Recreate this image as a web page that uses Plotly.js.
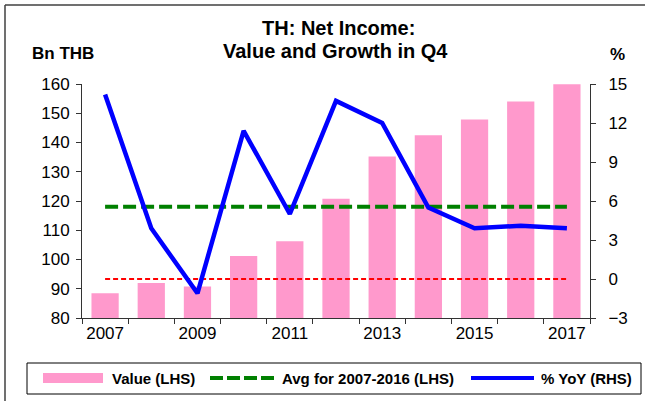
<!DOCTYPE html>
<html>
<head>
<meta charset="utf-8">
<script src="https://cdn.plot.ly/plotly-3.0.1.min.js"></script>
<style>
  html, body { margin: 0; padding: 0; background: #ffffff; }
  #chart { width: 649px; height: 401px; }
</style>
</head>
<body>
<div id="chart"></div>
<script>
// ---- data ----
const years = ['2007','2008','2009','2010','2011','2012','2013','2014','2015','2016','2017'];
const valueBn = [88.5, 92.0, 90.8, 101.2, 106.2, 120.8, 135.2, 142.5, 147.9, 154.0, 159.9];
const yoyPct = [14.2, 3.9, -1.1, 11.4, 5.0, 13.7, 12.0, 5.5, 3.9, 4.1, 3.9];
const avgLevel = 118;   // Avg for 2007-2016 (LHS)
const zeroLevel = 0;    // RHS zero reference
const xTickText = ['2007','','2009','','2011','','2013','','2015','','2017'];
const leftTicks = [80, 90, 100, 110, 120, 130, 140, 150, 160];
const rightTicks = [-3, 0, 3, 6, 9, 12, 15];
const seriesNames = ['Value (LHS)', 'Avg for 2007-2016 (LHS)', '% YoY (RHS)'];

// ---- geometry helpers (pixel -> paper) ----
const W = 649, H = 401;
const PL = 82, PR = 590, PT = 84, PB = 318;
const px = x => (x - PL) / (PR - PL);
const py = y => (PB - y) / (PB - PT);

const FONT = 'Arial, "Liberation Sans", Helvetica, sans-serif';
const PINK = '#FF99CC', GREEN = '#008000', BLUE = '#0000FF', RED = '#FF0000';

const traces = [
  { type: 'bar', x: years, y: valueBn, name: seriesNames[0], yaxis: 'y',
    marker: { color: PINK, line: { width: 0 } }, hoverinfo: 'skip' },
  { type: 'scatter', mode: 'lines', x: years, y: years.map(() => avgLevel), name: seriesNames[1], yaxis: 'y',
    line: { color: GREEN, width: 4, dash: '13px,5px' }, hoverinfo: 'skip' },
  { type: 'scatter', mode: 'lines', x: years, y: years.map(() => zeroLevel), yaxis: 'y2', showlegend: false,
    line: { color: RED, width: 2, dash: '5px,3px' }, hoverinfo: 'skip' },
  { type: 'scatter', mode: 'lines', x: years, y: yoyPct, name: seriesNames[2], yaxis: 'y2',
    line: { color: BLUE, width: 4.5 }, hoverinfo: 'skip' }
];

const axisCommon = {
  showgrid: false, zeroline: false, showline: true, linecolor: '#333333', linewidth: 1,
  ticks: 'outside', ticklen: 5, tickwidth: 1, tickcolor: '#333333'
};

const legY = 378;
const shapes = [
  // outer frame (top and left edges visible)
  { type: 'line', xref: 'paper', yref: 'paper', x0: px(5), x1: px(645), y0: py(5), y1: py(5), line: { color: '#404040', width: 1.5 } },
  { type: 'line', xref: 'paper', yref: 'paper', x0: px(5), x1: px(5), y0: py(5), y1: py(405), line: { color: '#404040', width: 1.5 } },
  // legend box
  { type: 'rect', xref: 'paper', yref: 'paper', x0: px(27), x1: px(641), y0: py(363), y1: py(394), line: { color: '#000000', width: 1 }, fillcolor: 'rgba(0,0,0,0)' },
  // legend swatches
  { type: 'rect', xref: 'paper', yref: 'paper', x0: px(43), x1: px(103), y0: py(legY - 5), y1: py(legY + 5), line: { width: 0 }, fillcolor: PINK },
  { type: 'line', xref: 'paper', yref: 'paper', x0: px(210), x1: px(275), y0: py(legY), y1: py(legY), line: { color: GREEN, width: 4, dash: '13px,4px' } },
  { type: 'line', xref: 'paper', yref: 'paper', x0: px(471), x1: px(534), y0: py(legY), y1: py(legY), line: { color: BLUE, width: 4 } }
];

const bold = (t, size, x, y, xanchor) => ({
  text: t, xref: 'paper', yref: 'paper', x: px(x), y: py(y), xanchor: xanchor || 'center', yanchor: 'middle',
  showarrow: false, font: { family: FONT, size: size, color: '#000000', weight: 'bold' }
});

const annotations = [
  bold('TH: Net Income:', 20, 338, 28),
  bold('Value and Growth in Q4', 20, 335, 51),
  bold('Bn THB', 17, 63, 53),
  bold('%', 17, 617, 54),
  bold(seriesNames[0], 15, 110, legY, 'left'),
  bold(seriesNames[1], 15, 280, legY, 'left'),
  bold(seriesNames[2], 15, 539, legY, 'left')
];

const layout = {
  width: W, height: H,
  margin: { l: PL, r: W - PR, t: PT, b: H - PB, pad: 0 },
  paper_bgcolor: '#ffffff', plot_bgcolor: '#ffffff',
  showlegend: false,
  bargap: 0.41,
  font: { family: FONT, color: '#000000' },
  xaxis: Object.assign({}, axisCommon, {
    type: 'category', range: [-0.5, 10.5], tickson: 'boundaries',
    tickvals: years, ticktext: xTickText, tickangle: 0, automargin: false,
    tickfont: { family: FONT, size: 17, color: '#000000' }
  }),
  yaxis: Object.assign({}, axisCommon, {
    range: [80, 160], tickvals: leftTicks, ticklabelstandoff: 3, automargin: false,
    tickfont: { family: FONT, size: 17, color: '#000000' }
  }),
  yaxis2: Object.assign({}, axisCommon, {
    overlaying: 'y', side: 'right', range: [-3, 15], tickvals: rightTicks, ticklabelstandoff: 9, automargin: false,
    tickfont: { family: FONT, size: 17, color: '#000000' }
  }),
  shapes: shapes,
  annotations: annotations
};

Plotly.newPlot('chart', traces, layout, { staticPlot: true, displayModeBar: false });
</script>
</body>
</html>
